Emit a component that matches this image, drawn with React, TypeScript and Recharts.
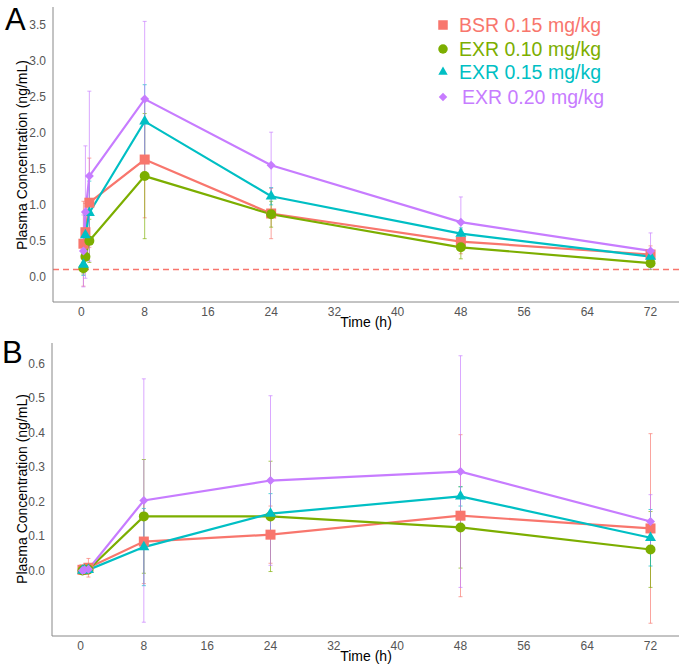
import React from 'react';
import { LineChart, Line, XAxis, YAxis, ErrorBar, ReferenceLine } from 'recharts';

document.body.style.margin = '0';

// sampling times (h)
const times = [0.25, 0.5, 1, 8, 24, 48, 72];
const xTicks = [0, 8, 16, 24, 32, 40, 48, 56, 64, 72];

// Panel A
const bsrA = [0.46, 0.62, 1.03, 1.63, 0.88, 0.49, 0.31];
const bsrAErr = [0.59, 0.4, 0.62, 0.81, 0.35, 0.17, 0.12];
const exr10A = [0.12, 0.28, 0.5, 1.4, 0.87, 0.41, 0.19];
const exr10AErr = [0.08, 0.15, 0.3, 0.87, 0.18, 0.16, 0.09];
const exr15A = [0.17, 0.58, 0.89, 2.16, 1.12, 0.6, 0.28];
const exr15AErr = [0.15, 0.3, 0.44, 0.51, 0.12, 0.08, 0.06];
const exr20A = [0.36, 0.9, 1.4, 2.47, 1.55, 0.76, 0.36];
const exr20AErr = [0.5, 0.92, 1.18, 1.08, 0.46, 0.35, 0.25];
const yTicksA = [0, 0.5, 1, 1.5, 2, 2.5, 3, 3.5];
const lloq = 0.1;

// Panel B
const bsrB = [0.002, 0.003, 0.008, 0.084, 0.104, 0.159, 0.122];
const bsrBErr = [0.005, 0.01, 0.027, 0.122, 0.083, 0.235, 0.275];
const exr10B = [0, 0.002, 0.003, 0.157, 0.157, 0.125, 0.061];
const exr10BErr = [0.003, 0.005, 0.008, 0.165, 0.16, 0.118, 0.11];
const exr15B = [0, 0.001, 0.002, 0.068, 0.165, 0.215, 0.095];
const exr15BErr = [0.003, 0.005, 0.01, 0.112, 0.058, 0.028, 0.082];
const exr20B = [0, 0.002, 0.004, 0.203, 0.261, 0.287, 0.142];
const exr20BErr = [0.003, 0.006, 0.01, 0.353, 0.246, 0.336, 0.078];
const yTicksB = [0, 0.1, 0.2, 0.3, 0.4, 0.5, 0.6];

const groups = [
  { key: 'bsr', name: 'BSR 0.15 mg/kg', color: '#F8766D', shape: 'square' },
  { key: 'exr10', name: 'EXR 0.10 mg/kg', color: '#7CAE00', shape: 'circle' },
  { key: 'exr15', name: 'EXR 0.15 mg/kg', color: '#00BFC4', shape: 'triangle' },
  { key: 'exr20', name: 'EXR 0.20 mg/kg', color: '#C77CFF', shape: 'diamond' },
];

const rowsA = times.map((t, i) => ({
  t,
  bsr: bsrA[i], bsrErr: bsrAErr[i],
  exr10: exr10A[i], exr10Err: exr10AErr[i],
  exr15: exr15A[i], exr15Err: exr15AErr[i],
  exr20: exr20A[i], exr20Err: exr20AErr[i],
}));

const rowsB = times.map((t, i) => ({
  t,
  bsr: bsrB[i], bsrErr: bsrBErr[i],
  exr10: exr10B[i], exr10Err: exr10BErr[i],
  exr15: exr15B[i], exr15Err: exr15BErr[i],
  exr20: exr20B[i], exr20Err: exr20BErr[i],
}));

function Marker({ shape, cx, cy, color, s = 1 }: any) {
  if (shape === 'square') {
    const h = 5 * s;
    return <rect x={cx - h} y={cy - h} width={2 * h} height={2 * h} fill={color} />;
  }
  if (shape === 'circle') return <circle cx={cx} cy={cy} r={5 * s} fill={color} />;
  if (shape === 'triangle') {
    const a = 11 * s;
    return (
      <polygon
        points={`${cx},${cy - a * 0.577} ${cx - a / 2},${cy + a * 0.289} ${cx + a / 2},${cy + a * 0.289}`}
        fill={color}
      />
    );
  }
  const h = 4.5 * s;
  return <polygon points={`${cx},${cy - h} ${cx + h},${cy} ${cx},${cy + h} ${cx - h},${cy}`} fill={color} />;
}

const tickStyle = { fill: '#555', fontSize: 12 };
const axisLine = { stroke: '#888', strokeWidth: 1 };

function Panel({ data, domain, ticks, marginTop, height, yWidth, refY }: any) {
  return (
    <LineChart width={685} height={height} data={data} margin={{ top: marginTop, right: 6, bottom: 0, left: 0 }}>
      <XAxis
        type="number"
        dataKey="t"
        domain={[-3.6, 75.6]}
        ticks={xTicks}
        allowDataOverflow
        height={31}
        tickLine={false}
        tickSize={3}
        tickMargin={2}
        axisLine={axisLine}
        tick={tickStyle}
      />
      <YAxis
        type="number"
        domain={domain}
        ticks={ticks}
        allowDataOverflow
        width={yWidth}
        tickLine={false}
        tickSize={3}
        tickMargin={4}
        axisLine={axisLine}
        tick={tickStyle}
        tickFormatter={(v: number) => v.toFixed(1)}
      />
      {refY !== undefined && (
        <ReferenceLine y={refY} stroke="#F8766D" strokeWidth={1.5} strokeDasharray="6 4" />
      )}
      {groups.map((g) => (
        <Line
          key={g.key}
          dataKey={g.key}
          stroke={g.color}
          strokeWidth={2.2}
          type="linear"
          isAnimationActive={false}
          dot={(p: any) => <Marker key={`${g.key}-${p.index}`} shape={g.shape} cx={p.cx} cy={p.cy} color={g.color} />}
          activeDot={false}
        >
          <ErrorBar
            dataKey={`${g.key}Err`}
            direction="y"
            width={2}
            stroke={g.color + 'AA'}
            strokeWidth={1}
            isAnimationActive={false}
          />
        </Line>
      ))}
    </LineChart>
  );
}

const yTitle = 'Plasma Concentration (ng/mL)';

export default function App() {
  const abs = (s: any) => ({ position: 'absolute' as const, whiteSpace: 'nowrap' as const, ...s });
  const big = { fontSize: 31, lineHeight: '31px' };
  return (
    <div
      style={{
        position: 'relative',
        width: 685,
        height: 667,
        background: '#fff',
        fontFamily: "'Liberation Sans', Arial, sans-serif",
        overflow: 'hidden',
      }}
    >
      <div style={abs({ left: 0, top: 0 })}>
        <Panel data={rowsA} domain={[-0.35, 3.75]} ticks={yTicksA} marginTop={7} height={333} yWidth={53} refY={lloq} />
      </div>
      <div style={abs({ left: 0, top: 333 })}>
        <Panel data={rowsB} domain={[-0.19, 0.66]} ticks={yTicksB} marginTop={10} height={334} yWidth={52} />
      </div>

      <div style={abs({ left: 5, top: 4, ...big })}>A</div>
      <div style={abs({ left: 2, top: 337, ...big })}>B</div>

      <div style={abs({ left: 22, top: 155, fontSize: 14, lineHeight: '16px', transform: 'translate(-50%, -50%) rotate(-90deg)' })}>{yTitle}</div>
      <div style={abs({ left: 22, top: 489, fontSize: 14, lineHeight: '16px', transform: 'translate(-50%, -50%) rotate(-90deg)' })}>{yTitle}</div>
      <div style={abs({ left: 366, top: 322, fontSize: 14, transform: 'translate(-50%, -50%)' })}>Time (h)</div>
      <div style={abs({ left: 366, top: 656, fontSize: 14, transform: 'translate(-50%, -50%)' })}>Time (h)</div>

      {groups.map((g, i) => {
        const y = [25, 49, 72, 97][i];
        return (
          <div key={g.key} style={abs({ left: 434, top: y - 12, height: 24, display: 'flex', alignItems: 'center' })}>
            <svg width={18} height={18} style={{ display: 'block' }}>
              <Marker shape={g.shape} cx={9} cy={9} color={g.color} s={g.shape === 'triangle' ? 0.85 : 0.95} />
            </svg>
            <span style={{ marginLeft: i === 3 ? 10 : 7, fontSize: 19.5, color: g.color }}>{g.name}</span>
          </div>
        );
      })}
    </div>
  );
}
